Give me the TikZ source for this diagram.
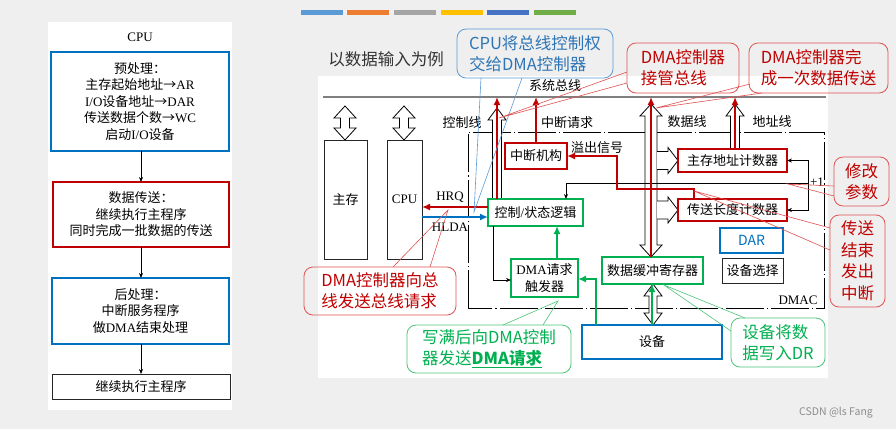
\documentclass[tikz,border=0pt]{standalone}
\usepackage{fontspec}
\setmainfont{Liberation Serif}
\newfontfamily\cjk{Noto Sans CJK SC}
\usetikzlibrary{arrows.meta}
\definecolor{dred}{HTML}{C00000}
\definecolor{dgreen}{HTML}{00B050}
\definecolor{dblue}{HTML}{0070C0}
\definecolor{cred}{HTML}{E05252}
\definecolor{cgreen}{HTML}{4CC47A}
\definecolor{cblue}{HTML}{5B9BD5}
\definecolor{tblue}{HTML}{2E75B6}
\definecolor{bgc}{HTML}{EFEFEF}
\definecolor{busc}{HTML}{7F7F7F}
\definecolor{barA}{HTML}{5B9BD5}
\definecolor{barB}{HTML}{ED7D31}
\definecolor{barC}{HTML}{A5A5A5}
\definecolor{barD}{HTML}{FFC000}
\definecolor{barE}{HTML}{4472C4}
\definecolor{barF}{HTML}{70AD47}
\newcommand\R[1]{{\rmfamily #1}}
\newcommand\dblarrow[5]{%
\draw[hollow] (#1,#2) -- ({#1+#4},{#2+12}) -- ({#1+#5},{#2+12}) -- ({#1+#5},{#3-12}) -- ({#1+#4},{#3-12}) -- (#1,#3) -- ({#1-#4},{#3-12}) -- ({#1-#5},{#3-12}) -- ({#1-#5},{#2+12}) -- ({#1-#4},{#2+12}) -- cycle;}
\newcommand\uparrowh[5]{%
\draw[hollow] ({#1-#5},#3) -- ({#1-#5},{#2+12}) -- ({#1-#4},{#2+12}) -- (#1,#2) -- ({#1+#4},{#2+12}) -- ({#1+#5},{#2+12}) -- ({#1+#5},#3);}
\newcommand\rarrowh[3]{%
\draw[hollow] (#2,{#1-9}) -- ({#3-10},{#1-9}) -- ({#3-10},{#1-13}) -- (#3,#1) -- ({#3-10},{#1+13}) -- ({#3-10},{#1+9}) -- (#2,{#1+9});}
\begin{document}
\begin{tikzpicture}[x=1pt,y=-1pt,
  every node/.style={inner sep=0pt, outer sep=0pt},
  fs/.style={font=\cjk\fontsize{13}{16.5}\selectfont},
  box/.style={draw, fill=white, fs, align=center},
  redbox/.style={box, draw=dred, line width=2.6pt},
  greenbox/.style={box, draw=dgreen, line width=2.6pt},
  bluebox/.style={box, draw=dblue, line width=2.6pt},
  thinbox/.style={box, draw=black!85, line width=0.8pt},
  hollow/.style={draw=black, fill=white, line width=0.8pt, line join=miter},
  thinl/.style={draw=black, line width=0.7pt},
  tip/.style={-{Stealth[length=5pt,width=4pt]}},
  redln/.style={draw=dred, line width=2.6pt, -{Latex[length=8pt,width=7pt]}},
  greenln/.style={draw=dgreen, line width=2.6pt, -{Latex[length=8pt,width=7pt]}},
  lbl/.style={fs},
  callout/.style={draw, rounded corners=9pt, line width=0.8pt, align=left, font=\cjk\fontsize{16.5}{21}\selectfont},
  ptr/.style={line width=0.6pt},
  dmac/.style={draw=black, line width=0.8pt, dash pattern=on 38pt off 3pt on 1.2pt off 3pt}
]
\useasboundingbox (0,0) rectangle (896,429);
\fill[bgc] (0,0) rectangle (896,429);
\fill[white] (48,22) rectangle (232,410);
\fill[white] (318,76) rectangle (828,378);
% colour bars
\fill[barA] (301,10) rectangle (343,15);
\fill[barB] (347,10) rectangle (389,15);
\fill[barC] (394,10) rectangle (436,15);
\fill[barD] (441,10) rectangle (483,15);
\fill[barE] (487,10) rectangle (529,15);
\fill[barF] (534,10) rectangle (576,15);

% ---------- left flow chart
\node[lbl, font=\rmfamily\fontsize{13}{15}\selectfont] (cpuT) at (140,37) {CPU};
\node[bluebox, minimum width=178pt, minimum height=99pt] (p1) at (140,101.5)
  {预处理：\\主存起始地址→\R{AR}\\\R{I/O}设备地址→\R{DAR}\\传送数据个数→\R{WC}\\启动\R{I/O}设备};
\node[redbox, minimum width=176pt, minimum height=65pt] (p2) at (141,214.5)
  {数据传送：\\继续执行主程序\\同时完成一批数据的传送};
\node[bluebox, minimum width=177pt, minimum height=66pt] (p3) at (140.5,311)
  {后处理：\\中断服务程序\\做\R{DMA}结束处理};
\node[thinbox, minimum width=178pt, minimum height=25pt] (p4) at (141,386.5) {继续执行主程序};
\draw[thinl,tip] (141,0 |- p1.south) -- (141,0 |- p2.north);
\draw[thinl,tip] (141,0 |- p2.south) -- (141,0 |- p3.north);
\draw[thinl,tip] (141,0 |- p3.south) -- (141,0 |- p4.north);

% ---------- right diagram
\node[font=\cjk\fontsize{16.5}{20}\selectfont, text=black!80] (title) at (386,59) {以数据输入为例};
\coordinate (busL) at (323,97);
\coordinate (busR) at (826,97);
\draw[busc, line width=2pt] (busL) -- (busR);
\node[lbl] (sysbus) at (555,86) {系统总线};

% DMAC boundary
\draw[dmac] (468,308) -- (468,132) -- (824,132) -- (824,308) -- cycle;

% hollow arrows
\dblarrow{345}{106}{140}{11}{4.5}
\dblarrow{404}{106}{140}{11}{4.5}
\uparrowh{497}{108}{199}{9}{4.5}
\dblarrow{651}{104}{257}{11}{6}
\uparrowh{735}{104}{149}{9}{4.5}
\rarrowh{160.5}{657}{678}
\rarrowh{210}{657}{678}
\dblarrow{653}{284}{325}{9}{4}

% boxes
\node[thinbox, minimum width=43pt, minimum height=119pt] (mem) at (345.5,199.5) {主存};
\node[thinbox, minimum width=35pt, minimum height=119pt, font=\rmfamily\fontsize{13}{15}\selectfont] (cpu) at (404.5,199.5) {CPU};
\node[redbox, minimum width=62pt, minimum height=26pt] (intr) at (536,156) {中断机构};
\node[greenbox, minimum width=95pt, minimum height=27pt] (ctrl) at (535.5,212.5) {控制\R{/}状态逻辑};
\node[greenbox, minimum width=67pt, minimum height=38pt, font=\cjk\fontsize{13}{17}\selectfont] (trig) at (544.5,278) {\R{DMA}请求\\触发器};
\node[greenbox, minimum width=101pt, minimum height=27pt] (buf) at (652.5,270.5) {数据缓冲寄存器};
\node[redbox, minimum width=109pt, minimum height=23pt] (mar) at (732.5,160.5) {主存地址计数器};
\node[redbox, minimum width=109pt, minimum height=22pt] (wc) at (732.5,210) {传送长度计数器};
\node[bluebox, minimum width=63pt, minimum height=25pt, text=dblue, font=\cjk\fontsize{14}{16}\selectfont] (dar) at (751.5,240.5) {DAR};
\node[thinbox, minimum width=61pt, minimum height=25pt] (sel) at (752.5,270.5) {设备选择};
\node[bluebox, minimum width=140pt, minimum height=34pt] (dev) at (652,342) {设备};

% labels
\node[lbl] (lctl) at (462,123) {控制线};
\node[lbl] (lint) at (567,123) {中断请求};
\node[lbl] (lovf) at (597,148) {溢出信号};
\node[lbl] (ldat) at (687,122) {数据线};
\node[lbl] (ladr) at (772,122) {地址线};
\node[lbl, font=\rmfamily\fontsize{13}{15}\selectfont] (lhrq) at (450,197) {HRQ};
\node[lbl, font=\rmfamily\fontsize{13}{15}\selectfont] (lhlda) at (450,227) {HLDA};
\node[lbl, font=\rmfamily\fontsize{13}{15}\selectfont] (lp1) at (817,182) {+1};
\node[lbl, font=\rmfamily\fontsize{13}{15}\selectfont] (ldmac) at (798,300) {DMAC};

% thin connectors
\draw[thinl,tip] (808,183) -- (566,183) -- (566,0 |- ctrl.north);
\draw[thinl,tip] (808,183) -- (808,0 |- mar.east) -- (mar.east);
\draw[thinl,tip] (808,183) -- (808,0 |- wc.east) -- (wc.east);
\draw[thinl,tip] (493,0 |- ctrl.south) -- (493,280) -- (trig.west |- 0,280);

% red connectors
\draw[redln] (497,0 |- ctrl.north) -- (497,0 |- busL);
\draw[redln] (intr.north) -- (intr.north |- busL);
\draw[redln] (651,0 |- buf.north) -- (651,0 |- busL);
\draw[redln] (735,0 |- mar.north) -- (735,0 |- busL);
\draw[redln] (694,0 |- wc.north) -- (694,189) -- (617,189) -- (617,0 |- intr.east) -- (intr.east);
\draw[draw=dred, line width=2.2pt, -{Latex[length=8pt,width=7pt]}] (ctrl.west |- 0,207) -- (cpu.east |- 0,207);
\draw[draw=dblue, line width=2.2pt, -{Latex[length=8pt,width=7pt]}] (cpu.east |- 0,217) -- (ctrl.west |- 0,217);

% green connectors
\draw[greenln] (557,0 |- trig.north) -- (557,0 |- ctrl.south);
\draw[greenln] (596,0 |- dev.north) -- (596,279) -- (trig.east |- 0,279);
\draw[greenln] (652,0 |- dev.north) -- (652,0 |- buf.south);

% ---------- callouts
\node[callout, draw=cblue, text=tblue, minimum width=156pt, minimum height=49pt] (c1) at (535,53.5) {CPU将总线控制权\\交给DMA控制器};
\coordinate (t1) at (474,212);
\draw[ptr, cblue] (481,78) -- (t1) -- (522,78);

\node[callout, draw=cred, text=dred, minimum width=112pt, minimum height=50pt] (c2) at (683,68) {DMA控制器\\接管总线};
\coordinate (t2) at (499,118);
\draw[ptr, cred] (627,72) -- (t2) -- (627,83);

\node[callout, draw=cred, text=dred, minimum width=139pt, minimum height=50pt] (c3) at (818.5,68) {DMA控制器完\\成一次数据传送};
\coordinate (t3) at (656,108);
\draw[ptr, cred] (750,84) -- (t3) -- (762,93);

\node[callout, draw=cred, text=dred, minimum width=152pt, minimum height=48pt] (c4) at (380,291) {DMA控制器向总\\线发送总线请求};
\coordinate (t4) at (448,210);
\draw[ptr, cred] (393,267) -- (t4) -- (430,267);

\node[callout, draw=cgreen, text=dgreen, minimum width=164pt, minimum height=48pt] (c5) at (489,349) {写满后向DMA控制\\器发送\underline{\bfseries DMA请求}};
\coordinate (t5) at (558,301);
\draw[ptr, cgreen] (503,325) -- (t5) -- (543,325);

\node[callout, draw=cgreen, text=dgreen, minimum width=94pt, minimum height=49pt] (c6) at (778,342.5) {设备将数\\据写入DR};
\coordinate (t6) at (664,285);
\draw[ptr, cgreen] (731,331) -- (t6) -- (745,318);

\node[callout, draw=cred, text=dred, align=center, minimum width=55pt, minimum height=49pt] (c7) at (861.5,181.5) {修改\\参数};
\coordinate (t7) at (788,184);
\draw[ptr, cred] (834,186) -- (t7) -- (834,196);

\node[callout, draw=cred, text=dred, align=center, minimum width=55pt, minimum height=92pt, font=\cjk\fontsize{16.5}{21.5}\selectfont] (c8) at (857.5,261) {传送\\结束\\发出\\中断};
\coordinate (t8) at (694,191);
\draw[ptr, cred] (830,228) -- (t8) -- (830,250);

\node[font=\cjk\fontsize{10.5}{12}\selectfont, text=black!45] (wm) at (836,413) {CSDN @ls Fang};
\end{tikzpicture}
\end{document}
